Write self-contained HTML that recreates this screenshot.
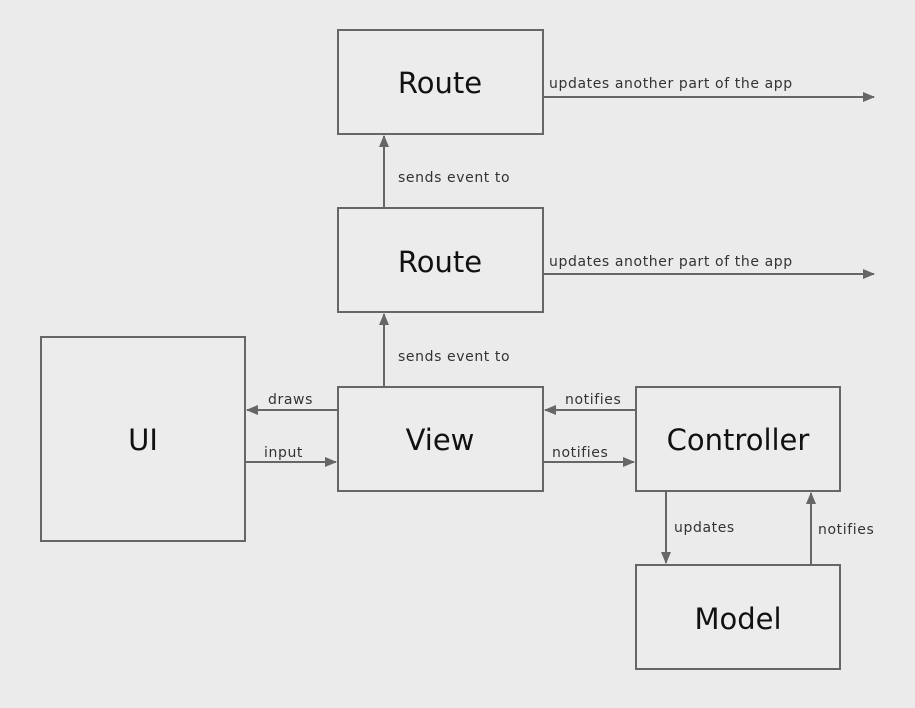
<!DOCTYPE html>
<html><head><meta charset="utf-8"><style>
html,body{margin:0;padding:0;background:#ebebeb;}
svg{display:block;}
text{font-family:"DejaVu Sans","Liberation Sans",sans-serif;fill:#111;}
.b{font-size:29px;text-anchor:middle;}
.s{font-size:14px;fill:#333;letter-spacing:0.6px;}
</style></head><body>
<svg width="915" height="708" viewBox="0 0 915 708" xmlns="http://www.w3.org/2000/svg">
<defs>
<marker id="a" markerWidth="12" markerHeight="10" refX="11" refY="5" orient="auto" markerUnits="userSpaceOnUse">
<path d="M0,0 L12,5 L0,10 z" fill="#666"/>
</marker>
</defs>
<rect width="915" height="708" fill="#ebebeb"/>
<g fill="#ececec" stroke="#666" stroke-width="2">
<rect x="338" y="30" width="205" height="104"/>
<rect x="338" y="208" width="205" height="104"/>
<rect x="338" y="387" width="205" height="104"/>
<rect x="41" y="337" width="204" height="204"/>
<rect x="636" y="387" width="204" height="104"/>
<rect x="636" y="565" width="204" height="104"/>
</g>
<g stroke="#666" stroke-width="2" fill="none" marker-end="url(#a)">
<line x1="543" y1="97" x2="874" y2="97"/>
<line x1="543" y1="274" x2="874" y2="274"/>
<line x1="384" y1="208" x2="384" y2="136"/>
<line x1="384" y1="387" x2="384" y2="314"/>
<line x1="338" y1="410" x2="247" y2="410"/>
<line x1="245" y1="462" x2="336" y2="462"/>
<line x1="636" y1="410" x2="545" y2="410"/>
<line x1="543" y1="462" x2="634" y2="462"/>
<line x1="666" y1="491" x2="666" y2="563"/>
<line x1="811" y1="565" x2="811" y2="493"/>
</g>
<text class="b" x="440" y="93">Route</text>
<text class="b" x="440" y="272">Route</text>
<text class="b" x="440" y="450">View</text>
<text class="b" x="143" y="450">UI</text>
<text class="b" x="738" y="450">Controller</text>
<text class="b" x="738" y="629">Model</text>
<text class="s" x="549" y="88">updates another part of the app</text>
<text class="s" x="549" y="266">updates another part of the app</text>
<text class="s" x="398" y="182">sends event to</text>
<text class="s" x="398" y="361">sends event to</text>
<text class="s" x="268" y="404">draws</text>
<text class="s" x="264" y="457">input</text>
<text class="s" x="565" y="404">notifies</text>
<text class="s" x="552" y="457">notifies</text>
<text class="s" x="674" y="532">updates</text>
<text class="s" x="818" y="534">notifies</text>
</svg>
</body></html>
